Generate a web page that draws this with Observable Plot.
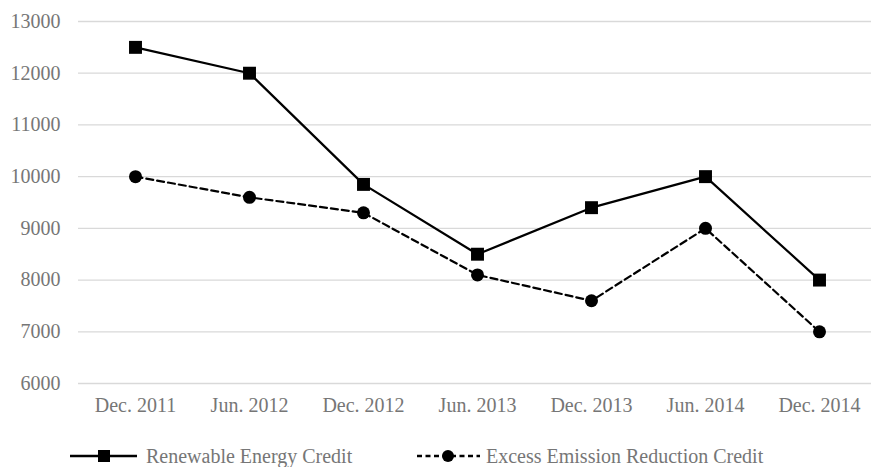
<!DOCTYPE html>
<html>
<head>
<meta charset="utf-8">
<script src="https://cdn.jsdelivr.net/npm/d3@7"></script>
<script src="https://cdn.jsdelivr.net/npm/@observablehq/plot@0.6"></script>
<style>
  body { margin: 0; background: #fff; }
  #wrap { position: relative; width: 871px; height: 467px; font-family: "Liberation Serif", "Times New Roman", Times, Tinos, "Nimbus Roman", "FreeSerif", "Noto Serif", "Noto Serif CJK SC", "DejaVu Serif", serif; }
  #legend { position: absolute; top: 444px; left: 0; width: 871px; height: 24px; }
  #legend .item { position: absolute; top: 0; display: flex; align-items: center; color: #767676; font-size: 20px; white-space: nowrap; }
</style>
</head>
<body>
<div id="wrap">
  <div id="chart"></div>
  <div id="legend">
    <div class="item" style="left:70px">
      <svg width="68" height="24"><line x1="0" x2="67" y1="12" y2="12" stroke="#000" stroke-width="2.5"/><rect x="28" y="6" width="12" height="12" fill="#000"/></svg>
      <span style="margin-left:8px">Renewable Energy Credit</span>
    </div>
    <div class="item" style="left:417px">
      <svg width="64" height="24"><line x1="0" x2="63" y1="12" y2="12" stroke="#000" stroke-width="2.5" stroke-dasharray="5,3.5"/><circle cx="31" cy="12" r="6" fill="#000"/></svg>
      <span style="margin-left:5px">Excess Emission Reduction Credit</span>
    </div>
  </div>
</div>
<script>
const periods = ["Dec. 2011", "Jun. 2012", "Dec. 2012", "Jun. 2013", "Dec. 2013", "Jun. 2014", "Dec. 2014"];
const renewable = [12500, 12000, 9850, 8500, 9400, 10000, 8000];
const excess = [10000, 9600, 9300, 8100, 7600, 9000, 7000];
const yTicks = [6000, 7000, 8000, 9000, 10000, 11000, 12000, 13000];

const rData = periods.map((p, i) => ({period: p, value: renewable[i]}));
const eData = periods.map((p, i) => ({period: p, value: excess[i]}));

const serif = '"Liberation Serif", "Times New Roman", Times, Tinos, "Nimbus Roman", "FreeSerif", "Noto Serif", "Noto Serif CJK SC", "DejaVu Serif", serif';

const chart = Plot.plot({
  width: 871,
  height: 420,
  marginTop: 21,
  marginBottom: 37,
  marginLeft: 78,
  marginRight: 0,
  style: { fontFamily: serif, fontSize: "20px", color: "#767676", background: "#fff" },
  x: { type: "point", domain: periods, range: [135, 819], padding: 0, label: null },
  y: { domain: [6000, 13000], label: null },
  marks: [
    Plot.ruleY(yTicks, { stroke: "#d9d9d9", strokeWidth: 1.3 }),
    Plot.axisY({ ticks: yTicks, tickSize: 0, tickPadding: 18, label: null, tickFormat: d => String(d), fill: "#767676" }),
    Plot.axisX({ tickSize: 0, tickPadding: 14, label: null, fill: "#767676" }),
    Plot.line(eData, { x: "period", y: "value", stroke: "#000", strokeWidth: 2.2, strokeDasharray: "7,4" }),
    Plot.dot(eData, { x: "period", y: "value", r: 6.5, fill: "#000", stroke: "none" }),
    Plot.line(rData, { x: "period", y: "value", stroke: "#000", strokeWidth: 2.2 }),
    Plot.dot(rData, { x: "period", y: "value", symbol: "square", r: 7.3, fill: "#000", stroke: "none" })
  ]
});
document.getElementById("chart").appendChild(chart);
</script>
</body>
</html>
